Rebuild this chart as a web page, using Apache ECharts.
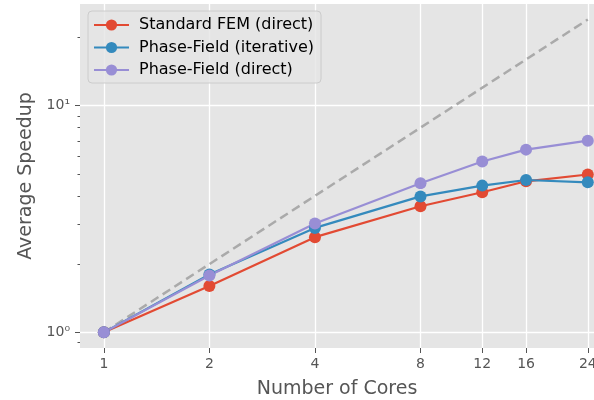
<!DOCTYPE html>
<html>
<head>
<meta charset="utf-8">
<script src="https://cdn.jsdelivr.net/npm/echarts@6/dist/echarts.min.js"></script>
<style>
html, body { margin: 0; background: #fff; }
#chart { width: 594px; height: 400px; }
</style>
</head>
<body>
<div id="chart"></div>
<script>
// data
const cores = [1, 2, 4, 8, 12, 16, 24]
const standardFem = [1.0, 1.60, 2.63, 3.60, 4.15, 4.64, 4.97]
const phaseFieldIter = [1.0, 1.80, 2.89, 3.98, 4.44, 4.70, 4.59]
const phaseFieldDirect = [1.0, 1.78, 3.02, 4.55, 5.67, 6.40, 7.01]
const idealCores = [1, 24]
const yMajorTicks = [1, 10]
const yMinorTicks = [0.9, 2, 3, 4, 5, 6, 7, 8, 9, 20]

const font = 'DejaVu Sans'
const pairs = (xs, ys) => xs.map((x, i) => [x, ys[i]])

const chart = echarts.init(document.getElementById('chart'))

const lineSeries = (name, color, values) => ({
    name: name,
    type: 'line',
    data: pairs(cores, values),
    symbol: 'circle',
    symbolSize: 12,
    lineStyle: { width: 2.2, color: color },
    itemStyle: { color: color },
    emphasis: { disabled: true },
    animation: false
})

const option = {
    backgroundColor: '#fff',
    textStyle: { fontFamily: font },
    grid: {
        left: 80, top: 4, width: 514, height: 344,
        outerBoundsMode: 'none', containLabel: false,
        show: true, backgroundColor: '#E5E5E5', borderWidth: 0
    },
    legend: {
        data: ['Standard FEM (direct)', 'Phase-Field (iterative)', 'Phase-Field (direct)'],
        orient: 'vertical',
        left: 88, top: 11,
        z: 10,
        padding: [6, 7, 5, 5],
        itemWidth: 35, itemHeight: 14, itemGap: 6.5,
        backgroundColor: 'rgba(229,229,229,0.8)',
        borderColor: '#cccccc', borderWidth: 1, borderRadius: 4,
        textStyle: { fontFamily: font, fontSize: 16, color: '#000', padding: [0, 0, 0, 5] }
    },
    xAxis: {
        type: 'log', logBase: 2, min: 0.855, max: 25,
        name: 'Number of Cores', nameLocation: 'middle', nameGap: 32,
        nameTextStyle: { fontFamily: font, fontSize: 19, color: '#555' },
        axisLine: { show: false },
        axisTick: { customValues: cores, length: 5, lineStyle: { color: '#555' } },
        axisLabel: { customValues: cores, fontFamily: font, fontSize: 14, color: '#555', margin: 9 },
        splitLine: { show: false }
    },
    yAxis: [{
        type: 'log', logBase: 10, min: 0.853, max: 28.1,
        name: 'Average Speedup', nameLocation: 'middle', nameGap: 41,
        nameTextStyle: { fontFamily: font, fontSize: 19, color: '#555' },
        axisLine: { show: false },
        axisTick: { customValues: yMajorTicks, length: 5, lineStyle: { color: '#555' } },
        axisLabel: {
            customValues: yMajorTicks, fontFamily: font, fontSize: 14, color: '#555', margin: 10,
            formatter: v => v === 1 ? '10⁰' : '10¹'
        },
        splitLine: { show: true, lineStyle: { color: '#fff', width: 1.3 } }
    }, {
        // minor ticks only
        type: 'log', logBase: 10, min: 0.853, max: 28.1,
        position: 'left',
        axisLine: { show: false },
        axisTick: { customValues: yMinorTicks, length: 2.5, lineStyle: { color: '#555' } },
        axisLabel: { show: false },
        splitLine: { show: false }
    }],
    series: [
        {
            // white vertical grid lines at every core count
            name: 'grid',
            type: 'line',
            data: [],
            z: 1,
            silent: true,
            markLine: {
                z: 1,
                silent: true,
                symbol: 'none',
                animation: false,
                label: { show: false },
                lineStyle: { type: 'solid', color: '#fff', width: 1.3 },
                data: cores.map(c => ({ xAxis: c }))
            }
        },
        {
            name: 'ideal',
            type: 'line',
            data: pairs(idealCores, idealCores),
            symbol: 'none',
            lineStyle: { type: [9, 5], width: 2.5, color: '#aaaaaa' },
            emphasis: { disabled: true },
            animation: false
        },
        lineSeries('Standard FEM (direct)', '#E24A33', standardFem),
        lineSeries('Phase-Field (iterative)', '#348ABD', phaseFieldIter),
        lineSeries('Phase-Field (direct)', '#988ED5', phaseFieldDirect)
    ]
}

chart.setOption(option)
</script>
</body>
</html>
